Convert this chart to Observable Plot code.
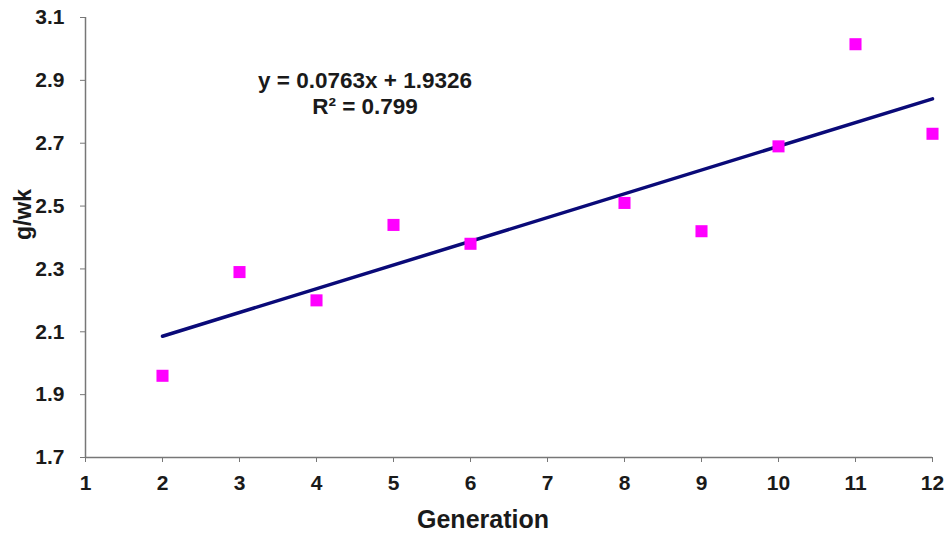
<!DOCTYPE html>
<html>
<head>
<meta charset="utf-8">
<script src="https://cdn.jsdelivr.net/npm/d3@7"></script>
<script src="https://cdn.jsdelivr.net/npm/@observablehq/plot@0.6"></script>
<style>
  html, body { margin: 0; padding: 0; background: #fff; }
  #chart { width: 948px; height: 535px; }
  #chart g[aria-label="x-axis tick label"] text,
  #chart g[aria-label="y-axis tick label"] text { font-size: 21px; font-weight: bold; }
</style>
</head>
<body>
<div id="chart"></div>
<script>
const generations = [2, 3, 4, 5, 6, 8, 9, 10, 11, 12];
const gPerWeek = [1.96, 2.29, 2.20, 2.44, 2.38, 2.51, 2.42, 2.69, 3.015, 2.73];
const xTicks = [1, 2, 3, 4, 5, 6, 7, 8, 9, 10, 11, 12];
const yTicks = [1.7, 1.9, 2.1, 2.3, 2.5, 2.7, 2.9, 3.1];
const equationLines = ["y = 0.0763x + 1.9326", "R² = 0.799"];
const xLabel = "Generation";
const yLabel = "g/wk";

const data = generations.map((g, i) => ({gen: g, val: gPerWeek[i]}));
const font = "'Liberation Sans', Arial, sans-serif";

const chart = Plot.plot({
  width: 948,
  height: 535,
  marginLeft: 85,
  marginRight: 16,
  marginTop: 17,
  marginBottom: 78,
  style: {fontFamily: font, fontSize: "21px", background: "#fff", color: "#1a1a1a"},
  x: {domain: [1, 12]},
  y: {domain: [1.7, 3.1]},
  marks: [
    Plot.ruleX([1], {stroke: "#777", strokeWidth: 1.5}),
    Plot.ruleY([1.7], {stroke: "#777", strokeWidth: 1.5}),
    Plot.axisY({ticks: yTicks, tickFormat: d3.format(".1f"), tickSize: 5, tickPadding: 16,
      stroke: "#777", fontSize: 21, fontWeight: "bold", label: null}),
    Plot.axisX({ticks: xTicks, tickFormat: d => String(d), tickSize: 5, tickPadding: 13,
      stroke: "#777", fontSize: 21, fontWeight: "bold", label: null}),
    Plot.linearRegressionY(data, {x: "gen", y: "val", ci: 0, stroke: "#0a0a78", strokeWidth: 3.5}),
    Plot.dot(data, {x: "gen", y: "val", symbol: "square", r: 6.8, fill: "#ff00ff", stroke: "none"}),
    Plot.text([equationLines[0]], {x: 4.63, y: 2.898, text: d => d, fontSize: 22.5, fontWeight: "bold", fill: "#1a1a1a"}),
    Plot.text([equationLines[1]], {x: 4.63, y: 2.815, text: d => d, fontSize: 22.5, fontWeight: "bold", fill: "#1a1a1a"}),
    Plot.text([xLabel], {frameAnchor: "bottom", lineAnchor: "middle", textAnchor: "middle", dx: -26, dy: 62,
      text: d => d, fontSize: 25, fontWeight: "bold", fill: "#1a1a1a"}),
    Plot.text([yLabel], {frameAnchor: "left", y: 2.473, lineAnchor: "middle", textAnchor: "middle", dx: -62, rotate: -90,
      text: d => d, fontSize: 23, fontWeight: "bold", fill: "#1a1a1a"})
  ]
});
document.getElementById("chart").appendChild(chart);
</script>
</body>
</html>
